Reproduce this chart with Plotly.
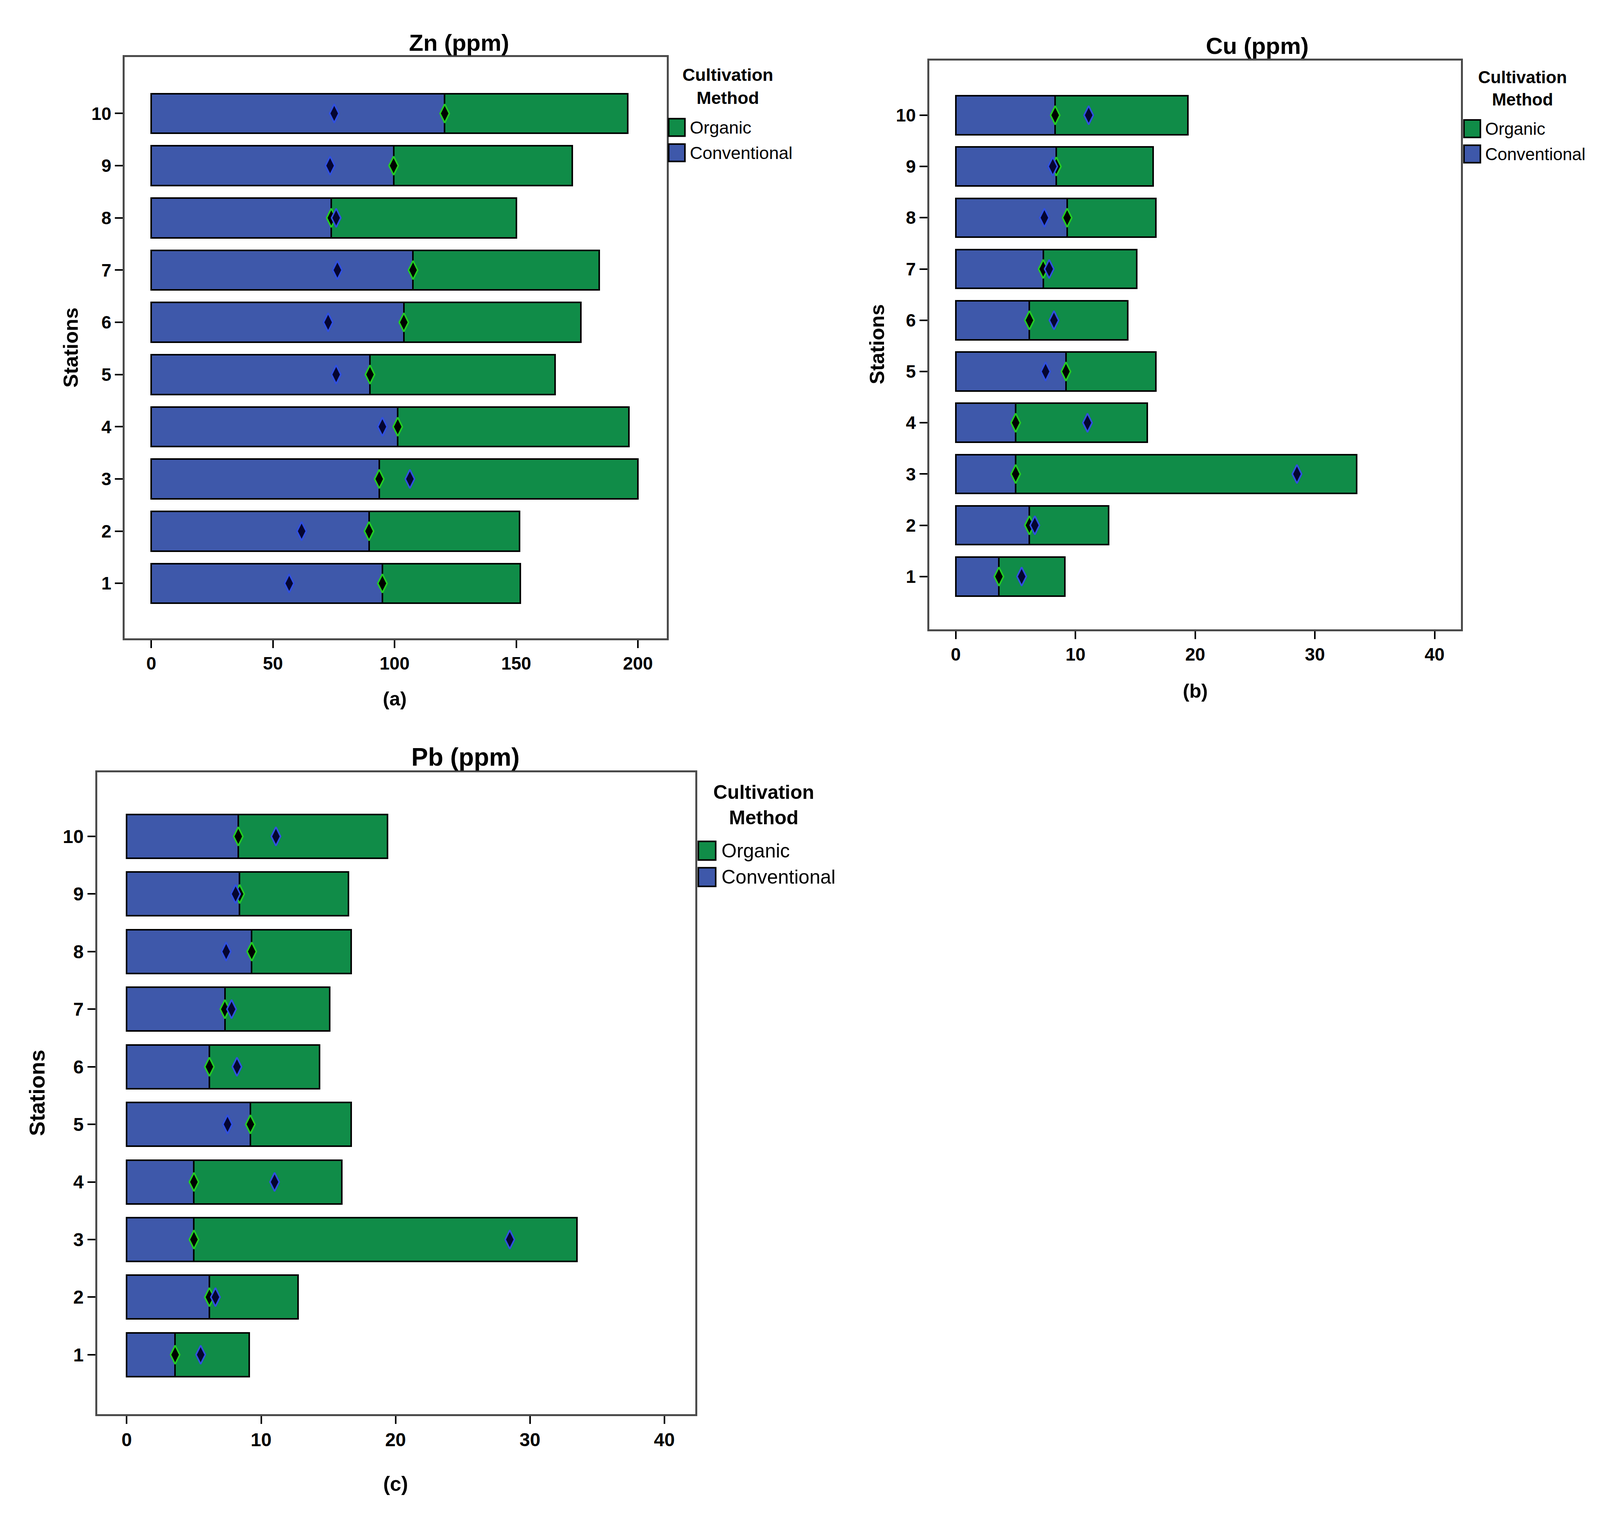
import plotly.graph_objects as go

# station numbers (y axis)
stations = [1, 2, 3, 4, 5, 6, 7, 8, 9, 10]

# Zn (ppm)
zn_conventional = [95.0, 89.5, 93.7, 101.3, 89.9, 103.8, 107.6, 74.0, 99.6, 120.6]
zn_organic = [56.7, 61.8, 106.3, 95.0, 76.0, 72.7, 76.5, 76.0, 73.5, 75.2]

# Cu (ppm), panel (b)
cu_conventional = [3.6, 6.15, 5.0, 5.0, 9.2, 6.15, 7.3, 9.3, 8.4, 8.3]
cu_organic = [5.5, 6.6, 28.5, 11.0, 7.5, 8.2, 7.8, 7.4, 8.1, 11.1]

# Pb (ppm), panel (c) - same values as Cu in the source figure
pb_conventional = [3.6, 6.15, 5.0, 5.0, 9.2, 6.15, 7.3, 9.3, 8.4, 8.3]
pb_organic = [5.5, 6.6, 28.5, 11.0, 7.5, 8.2, 7.8, 7.4, 8.1, 11.1]

BLUE = "#3E58AA"
GREEN = "#108C48"
FONT = "Liberation Sans, Arial, sans-serif"

fig = go.Figure()

panels = [
    dict(conv=zn_conventional, org=zn_organic, ax="", xdom=[0.0763, 0.4163], ydom=[0.5785, 0.9642],
         xr=[-10.9, 211.8], yr=[-0.05, 11.08], xt=[0, 50, 100, 150, 200], fs=46),
    dict(conv=cu_conventional, org=cu_organic, ax="2", xdom=[0.5811, 0.9147], ydom=[0.5844, 0.9620],
         xr=[-2.22, 42.2], yr=[-0.03, 11.07], xt=[0, 10, 20, 30, 40], fs=46),
    dict(conv=pb_conventional, org=pb_organic, ax="3", xdom=[0.0590, 0.4343], ydom=[0.0636, 0.4894],
         xr=[-2.2, 42.3], yr=[-0.03, 11.11], xt=[0, 10, 20, 30, 40], fs=48),
]

for p in panels:
    xa = "x" + p["ax"]
    ya = "y" + p["ax"]
    fig.add_trace(go.Bar(
        y=stations, x=p["conv"], orientation="h", name="Conventional",
        marker=dict(color=BLUE, line=dict(color="black", width=4)),
        width=0.76, xaxis=xa, yaxis=ya, showlegend=False))
    fig.add_trace(go.Bar(
        y=stations, x=p["org"], orientation="h", name="Organic",
        marker=dict(color=GREEN, line=dict(color="black", width=4)),
        width=0.76, xaxis=xa, yaxis=ya, showlegend=False))
    # mean markers drawn on the value axis (not stacked)
    fig.add_trace(go.Scatter(
        x=p["conv"], y=stations, mode="markers", xaxis=xa, yaxis=ya, showlegend=False,
        marker=dict(symbol="diamond-tall", size=34, color="black",
                    line=dict(color="#22CC22", width=4))))
    fig.add_trace(go.Scatter(
        x=p["org"], y=stations, mode="markers", xaxis=xa, yaxis=ya, showlegend=False,
        marker=dict(symbol="diamond-tall", size=34, color="#050530",
                    line=dict(color="#3050E0", width=4))))

    axis_common = dict(showline=True, mirror=True, linecolor="#4A4A4A", linewidth=5,
                       ticks="outside", ticklen=20, tickwidth=4, tickcolor="black",
                       showgrid=False, zeroline=False,
                       tickfont=dict(family=FONT, size=p["fs"], color="black",
                                     weight="bold"))
    fig.update_layout(**{
        "xaxis" + p["ax"]: dict(domain=p["xdom"], range=p["xr"], tickvals=p["xt"],
                                anchor=ya, **axis_common),
        "yaxis" + p["ax"]: dict(domain=p["ydom"], range=p["yr"], tickvals=stations,
                                anchor=xa, **axis_common),
    })

annotations = []

def text(x, y, s, size, bold=True, angle=0, xanchor="center"):
    annotations.append(dict(
        x=x, y=y, xref="paper", yref="paper", text=s, showarrow=False,
        xanchor=xanchor, yanchor="middle", textangle=angle,
        font=dict(family=FONT, size=size, color="black",
                  weight="bold" if bold else "normal")))

# panel titles
text(0.2861, 0.9737, "Zn (ppm)", 60)
text(0.7870, 0.9715, "Cu (ppm)", 60)
text(0.2900, 0.4996, "Pb (ppm)", 64)
# sub labels
text(0.2457, 0.5383, "(a)", 50)
text(0.7480, 0.5434, "(b)", 50)
text(0.2463, 0.0175, "(c)", 52)
# y titles
text(0.0423, 0.7714, "Stations", 52, angle=-90)
text(0.5484, 0.7736, "Stations", 52, angle=-90)
text(0.0212, 0.2768, "Stations", 56, angle=-90)

# legends drawn by hand so the swatches keep the reference size
shapes = []
legends = [
    # (swatch x0, swatch x1, organic y, conventional y, half height, label x, title x, title y, font)
    (0.4176, 0.4278, 0.9175, 0.9007, 0.0058, 0.4304, 0.4548, 0.9448, 45),
    (0.9166, 0.9269, 0.9167, 0.8999, 0.0058, 0.9294, 0.9532, 0.9434, 44),
    (0.4362, 0.4471, 0.4375, 0.4200, 0.0062, 0.4503, 0.4772, 0.4679, 50),
]
for x0, x1, yo, yc, hh, lx, tx, ty, fs in legends:
    for yy, col, lab in [(yo, GREEN, "Organic"), (yc, BLUE, "Conventional")]:
        shapes.append(dict(type="rect", xref="paper", yref="paper",
                           x0=x0, x1=x1, y0=yy - hh, y1=yy + hh,
                           fillcolor=col, line=dict(color="black", width=4)))
        text(lx, yy, lab, fs, bold=False, xanchor="left")
    text(tx, ty, "Cultivation<br>Method", fs)

# let the figure fill the browser window
fig.update_layout(
    autosize=True,
    margin=dict(l=0, r=0, t=0, b=0),
    paper_bgcolor="white", plot_bgcolor="white",
    barmode="stack",
    showlegend=False,
    annotations=annotations,
    shapes=shapes,
    font=dict(family=FONT, color="black"),
)

fig.write_html("out.html")
